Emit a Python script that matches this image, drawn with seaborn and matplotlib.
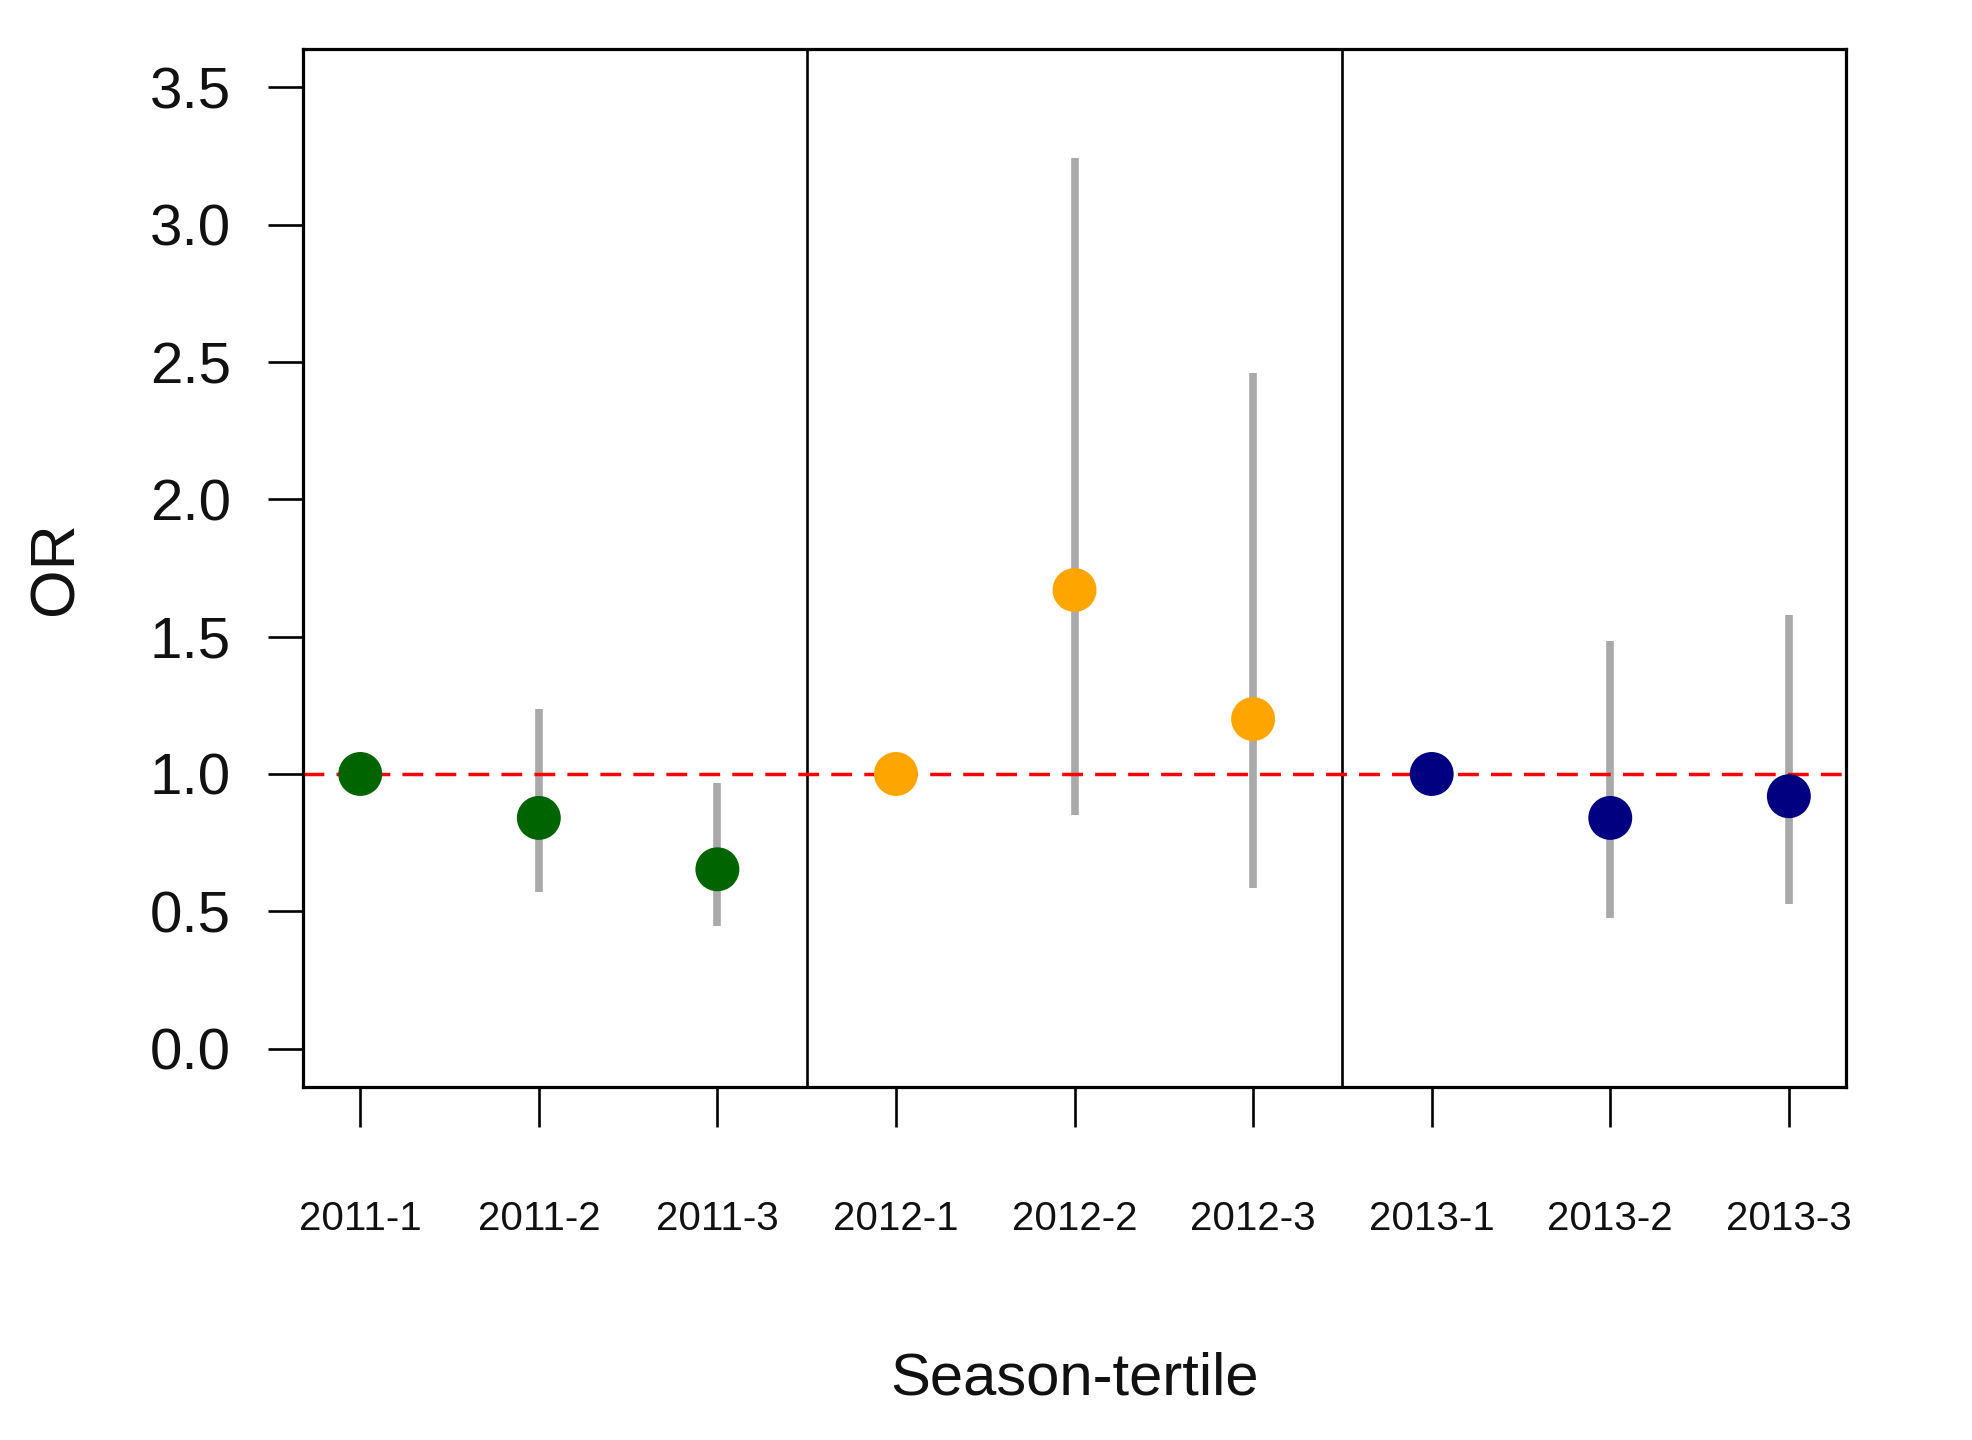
import numpy as np
import pandas as pd
import matplotlib
matplotlib.use("Agg")
import matplotlib.pyplot as plt
from matplotlib import font_manager
import seaborn as sns

# odds ratios by season-tertile (first tertile of each season is the reference)
labels = ["2011-1", "2011-2", "2011-3", "2012-1", "2012-2", "2012-3",
          "2013-1", "2013-2", "2013-3"]
season = ["2011", "2011", "2011", "2012", "2012", "2012", "2013", "2013", "2013"]
odds = [1.00, 0.84, 0.653, 1.00, 1.67, 1.20, 1.00, 0.84, 0.919]
ci_low = [np.nan, 0.571, 0.446, np.nan, 0.850, 0.584, np.nan, 0.476, 0.526]
ci_high = [np.nan, 1.235, 0.968, np.nan, 3.243, 2.459, np.nan, 1.484, 1.578]
season_colors = {"2011": "#006400", "2012": "#FFA500", "2013": "#000080"}

df = pd.DataFrame({"pos": np.arange(1, len(labels) + 1), "label": labels,
                   "season": season, "OR": odds, "lo": ci_low, "hi": ci_high})

sns.set_theme(style="white")
plt.rcParams['font.family'] = ['Liberation Sans', 'DejaVu Sans']

# narrow font for the x tick labels if it is around
try:
    font_manager.findfont("Liberation Sans Narrow", fallback_to_default=False)
    xfam, xsize = "Liberation Sans Narrow", 34
except Exception:
    xfam, xsize = "Liberation Sans", 29

fig = plt.figure(figsize=(19.72, 14.4), dpi=100, facecolor="white")
ax = fig.add_axes([0.1537, 0.2451, 0.7824, 0.7209])

# confidence intervals
ci = df.dropna()
ax.vlines(ci["pos"], ci["lo"], ci["hi"], color="#A9A9A9", lw=5.5, zorder=1)

ax.axhline(1.0, color="red", lw=2.5, linestyle=(0, (6, 3.5)), zorder=2)
for sep in [3.5, 6.5]:
    ax.axvline(sep, color="black", lw=1.9, zorder=0)

sns.scatterplot(data=df, x="pos", y="OR", hue="season", palette=season_colors,
                s=1000, marker="o", edgecolor="none", legend=False, ax=ax, zorder=3)

ax.set_xlim(0.68, 9.32)
ax.set_ylim(-0.14, 3.64)
ax.set_xticks(df["pos"])
ax.set_xticklabels(df["label"], family=[xfam, "DejaVu Sans"], fontsize=xsize, color="#111111")
ax.set_yticks(np.arange(0, 3.6, 0.5))
ax.set_yticklabels([f"{v:.1f}" for v in np.arange(0, 3.6, 0.5)], fontsize=42, color="#111111")

ax.tick_params(axis="x", direction="out", length=29, width=1.9, pad=52, bottom=True, color="black")
ax.tick_params(axis="y", direction="out", length=25, width=1.9, pad=27, left=True, color="black")

for sp in ax.spines.values():
    sp.set_visible(True)
    sp.set_color("black")
    sp.set_linewidth(2.3)

ax.set_xlabel("Season-tertile", fontsize=43, color="#111111")
ax.set_ylabel("OR", fontsize=45, color="#111111")
ax.xaxis.set_label_coords(0.5, -0.255)
ax.yaxis.set_label_coords(-0.141, 0.5)

fig.savefig("out.png", dpi=100, facecolor="white")
plt.close(fig)
